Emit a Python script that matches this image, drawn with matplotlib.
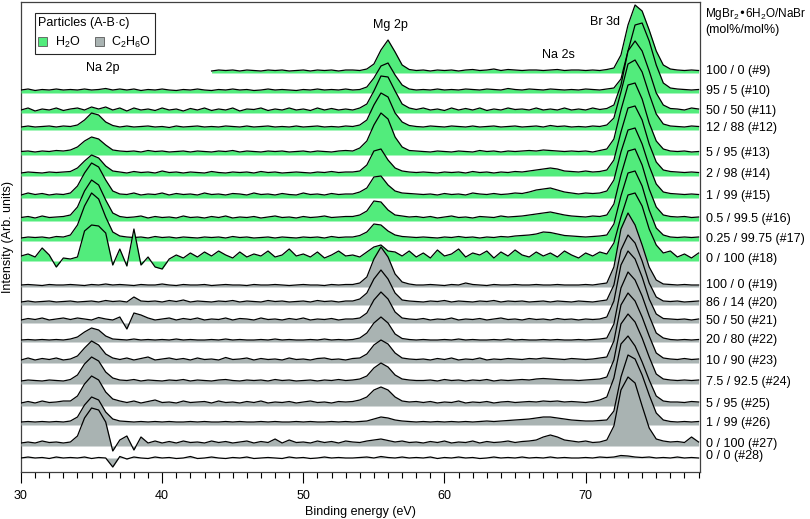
"""
XPS waterfall: MgBr2*6H2O / NaBr particles from H2O and C2H6O solutions.
All spectra share one energy grid (0.5 eV); values are intensities above
each spectrum's zero line, read off the original figure.
"""
import numpy as np
import matplotlib
matplotlib.use('Agg')
import matplotlib.pyplot as plt
from matplotlib.patches import Patch
from matplotlib.ticker import MultipleLocator

plt.rcParams['font.family'] = ['Liberation Sans', 'DejaVu Sans']
plt.rcParams['mathtext.default'] = 'regular'

GREEN = '#52ec7c'
GREY = '#a9b3b2'

energy = np.arange(30, 78.01, 0.5)   # binding energy (eV)

# zero line of each spectrum, counted downwards from the top of the plot
baseline = [73, 93, 113, 130, 155, 176, 198, 221, 241, 261,
            287, 305, 323, 342, 363, 384, 406, 425, 446, 458]

labels = ['100 / 0 (#9)', '95 / 5 (#10)', '50 / 50 (#11)', '12 / 88 (#12)',
          '5 / 95 (#13)', '2 / 98 (#14)', '1 / 99 (#15)', '0.5 / 99.5 (#16)',
          '0.25 / 99.75 (#17)', '0 / 100 (#18)',
          '100 / 0 (#19)', '86 / 14 (#20)', '50 / 50 (#21)', '20 / 80 (#22)',
          '10 / 90 (#23)', '7.5 / 92.5 (#24)', '5 / 95 (#25)', '1 / 99 (#26)',
          '0 / 100 (#27)', '0 / 0 (#28)']

solvent = ['H2O'] * 10 + ['C2H6O'] * 10

# ── H2O particles ───────────────────────────────────────────────
s09 = ([None] * 27 +
       [2, 3, 2.5, 3, 2, 3, 2.5, 2, 3, 2.5, 3, 2, 2.5, 3, 2, 3, 2.5, 3, 2, 3] +
       [3, 2.5, 4, 9, 23, 33, 21, 8, 3.5, 2.5] +
       [3, 2, 3, 2.5, 3, 2, 3, 3.5, 2.5, 3, 4, 2.5, 3.5, 3, 2.5, 3] +
       [3, 2.5, 3, 3.5, 2.5, 3] + [3, 2.5, 3, 2.5, 3.5] +
       [5, 18, 48, 68, 62, 43, 22, 8, 4] + [3, 2.5, 3, 2.5])
s10 = ([3, 4, 2.5, 3.5, 3, 4, 3] + [3.5, 3, 4, 3, 3.5, 4.5, 3, 4] +
       [3, 4, 2.5, 3.5, 3, 4, 3, 2.5, 3.5, 3, 4, 3, 2.5, 3.5, 3, 4,
        3, 3.5, 2.5, 3, 4, 3, 3.5, 3, 2.5, 3.5, 3, 4, 3, 3.5, 3, 4] +
       [3, 3.5, 6, 15, 27, 30, 18, 8, 4, 3] +
       [3.5, 3, 4, 3, 3.5, 3, 4, 3.5, 3, 4, 3.5, 3, 4.5, 3.5, 3, 4] +
       [3.5, 3, 4, 3.5, 3, 3.5] + [3, 4, 3.5, 3, 4] +
       [5, 14, 42, 68, 70, 52, 28, 10, 5] + [4, 3.5, 3, 3.5])
s11 = ([3, 5, 2, 4, 3, 5, 2.5] + [4, 5, 3, 6, 4, 6, 3, 5] +
       [2, 5, 3, 4, 2.5, 5, 3, 4, 2, 4.5, 3, 5, 2.5, 4, 3, 5,
        2, 4, 3.5, 5, 2.5, 4, 3, 5, 3, 4, 2.5, 5, 3, 4.5, 3, 4] +
       [3, 5, 9, 22, 37, 36, 22, 9, 5, 3.5] +
       [5, 3, 4, 2.5, 5, 3, 4.5, 3, 5, 2.5, 4, 3, 5, 3.5, 4, 3] +
       [5, 3, 4, 3, 5, 3] + [4, 3, 5, 3.5, 4.5] +
       [8, 28, 62, 72, 62, 42, 20, 8, 4.5] + [4, 3, 5, 4])
s12 = ([3, 4, 3, 3.5, 4, 3, 4] + [3.5, 5, 10, 17, 15, 8, 4.5, 3] +
       [4, 3, 3.5, 4, 3, 3.5, 2.5, 4, 3, 3.5, 4, 3, 3.5, 3, 4, 3.5,
        3, 4, 3, 3.5, 4, 3, 3.5, 3, 4, 3, 3.5, 4, 3, 3.5, 3, 4] +
       [3.5, 5, 10, 25, 37, 33, 17, 8, 4.5, 3.5] +
       [3, 4, 3.5, 3, 4, 3.5, 3, 4, 3, 3.5, 4, 3, 3.5, 4, 3, 3.5] +
       [4, 3, 4.5, 3.5, 4, 3] + [3.5, 3, 4, 3.5, 5] +
       [12, 38, 66, 70, 58, 36, 16, 6, 4] + [3.5, 3, 4, 3.5])
s13 = ([3.5, 4, 3, 4, 3.5, 4.5, 4] + [5, 8, 14, 18, 16, 10, 5, 4] +
       [3.5, 4, 3, 4.5, 3.5, 4, 3, 3.5, 4, 3, 4, 3.5, 3, 4, 3.5, 4.5,
        3, 4, 3.5, 3, 4, 3.5, 4, 3, 3.5, 4, 3, 4, 3.5, 3, 4, 4.5] +
       [4, 7, 14, 30, 42, 36, 18, 8, 4.5, 4] +
       [3.5, 3, 4, 3.5, 3, 4, 3.5, 3, 4.5, 3.5, 4, 3, 4, 3.5, 4, 4.5] +
       [4, 5, 4.5, 4, 3.5, 4] + [3.5, 4, 3, 4.5, 6] +
       [16, 45, 70, 72, 56, 32, 14, 6, 4] + [3.5, 4, 3, 3.5])
s14 = ([3, 4, 3.5, 3, 4, 3.5, 4] + [4.5, 8, 15, 21, 18, 10, 5, 4] +
       [3, 4.5, 3.5, 4, 3, 5, 3.5, 4, 3, 4, 3.5, 3, 4.5, 3.5, 3, 4,
        3.5, 4, 3, 4.5, 3.5, 4, 3, 3.5, 4, 3.5, 3, 4, 3.5, 4.5, 3.5, 4] +
       [4, 5, 11, 25, 27, 16, 8, 5, 4, 3.5] +
       [4, 3.5, 3, 4, 3.5, 4, 3, 4.5, 3.5, 4, 3, 4, 3.5, 4.5, 4, 5] +
       [6, 7, 8, 7, 5, 4.5] + [4, 5, 4, 4.5, 6] +
       [16, 44, 68, 70, 56, 32, 14, 6, 4.5] + [4, 3.5, 4, 3.5])
s15 = ([3, 5, 3.5, 4.5, 3, 4, 3.5] + [5, 12, 25, 35, 31, 18, 7, 4] +
       [3.5, 5, 3, 4, 3.5, 5, 3, 4.5, 3.5, 4, 3, 5, 3.5, 4, 3, 4.5,
        4, 3, 5, 3.5, 4, 3, 4.5, 3.5, 3, 5, 3.5, 4, 3, 4.5, 3.5, 4] +
       [4, 6, 10, 21, 22, 13, 7, 5, 4.5, 4] +
       [3.5, 4, 3, 4.5, 3.5, 4, 3, 5, 4, 3.5, 4.5, 3.5, 4, 5, 4.5, 6] +
       [8, 9, 10, 8, 6, 5] + [4, 5, 4.5, 5, 7] +
       [18, 46, 68, 70, 54, 32, 14, 6, 4.5] + [4, 3.5, 4, 3.5])
s16 = ([3.5, 4.5, 3, 5, 3.5, 4, 4.5] + [6, 14, 30, 41, 36, 21, 8, 4.5] +
       [3.5, 4, 5, 3, 4.5, 3.5, 4, 3, 5, 3.5, 4, 3, 4.5, 3.5, 5, 3,
        4, 3.5, 4.5, 3, 4, 5, 3.5, 4, 3, 4.5, 3.5, 4, 5, 3.5, 4, 4.5] +
       [4.5, 6, 10, 20, 19, 11, 6, 5, 4, 4.5] +
       [3.5, 4.5, 3, 4, 5, 3.5, 4, 3, 4.5, 4, 3.5, 5, 4, 4.5, 5, 6] +
       [7, 8, 9, 7.5, 6, 5] + [4.5, 4, 5, 4.5, 6] +
       [17, 46, 70, 72, 56, 32, 14, 6, 4.5] + [4, 4.5, 3.5, 4])
s17 = ([3, 4, 3.5, 4, 3, 4.5, 4] + [6, 16, 35, 48, 42, 24, 9, 5] +
       [4, 3.5, 4, 3, 4.5, 3.5, 4, 3, 4, 3.5, 3, 4, 3.5, 4, 3, 4.5,
        3.5, 4, 3, 3.5, 4, 3, 4, 3.5, 3, 4, 3.5, 4, 3, 4.5, 3.5, 4] +
       [4, 5.5, 9, 17, 16, 10, 6, 4.5, 4, 3.5] +
       [4, 3.5, 3, 4, 3.5, 4.5, 3.5, 4, 3, 4, 3.5, 4.5, 4, 5, 5.5, 6] +
       [7, 9, 8.5, 7, 5.5, 5] + [4.5, 4, 4.5, 5, 6] +
       [17, 45, 68, 70, 55, 31, 13, 6, 4] + [3.5, 4, 3.5, 4])
s18 = ([5, 7, 4, 13, 6, -6, 3] + [2, 4, 30, 36, 35, 28, -4, 12] +
       [-5, 32, -4, 4, -6, -8, 2, 6, 3, 8, 4, 9, 5, 10, 6, 3,
        9, 4, 7, 5, 10, 4, 6, 12, 5, 7, 4, 9, 3, 6, 10, 5] +
       [6, 4, 9, 14, 16, 10, 9, 5, 10, 4] +
       [8, 3, 11, 5, 7, 12, 4, 8, 6, 10, 3, 9, 5, 11, 6, 4] +
       [9, 5, 8, 4, 10, 6] + [3, 8, 5, 9, 7] +
       [18, 44, 66, 68, 55, 32, 16, 8, 10] + [4, 7, 3, 8])

# ── C2H6O particles ─────────────────────────────────────────────
s19 = ([2, 2.5, 2, 1.5, 2.5, 2, 2] + [2.5, 2, 1.5, 2.5, 2, 3, 2, 2.5] +
       [2, 1.5, 2.5, 2, 2, 3, 2, 1.5, 2.5, 2, 2, 2.5, 1.5, 2, 2.5, 2,
        2, 1.5, 2.5, 2, 2, 2.5, 2, 1.5, 2, 2.5, 2, 2, 1.5, 2.5, 2, 2.5] +
       [2.5, 4, 10, 28, 40, 30, 13, 5, 3, 2] +
       [2, 2.5, 2, 1.5, 2.5, 2, 4, 2.5, 2, 1.5, 2.5, 2, 2, 2.5, 2, 2] +
       [2.5, 2, 2, 2.5, 2, 2] + [2, 2.5, 2, 3, 4] +
       [20, 58, 74, 62, 42, 20, 7, 3, 2.5] + [2, 2.5, 2, 2])
s20 = ([3, 4, 3, 3.5, 4, 3, 3.5] + [4, 3, 3.5, 4, 3, 4.5, 3.5, 4] +
       [3, 8, 4, 3.5, 4, 3, 4.5, 3.5, 5, 3, 4, 3.5, 3, 4, 3.5, 4.5,
        3, 4, 3.5, 3, 4.5, 3.5, 4, 3, 3.5, 4, 3, 4.5, 3.5, 4, 3, 4] +
       [4, 6, 12, 26, 35, 26, 12, 5, 4, 3.5] +
       [3, 4, 3.5, 4.5, 3, 4, 3.5, 3, 4, 3.5, 4.5, 3, 4, 3.5, 4, 3] +
       [3.5, 4, 3, 4, 3.5, 3] + [4, 3.5, 3, 4, 5] +
       [20, 55, 70, 62, 44, 22, 8, 4, 3.5] + [4, 3, 3.5, 4])
s21 = ([3, 4.5, 3.5, 5, 3, 4, 5] + [3.5, 5, 4, 3, 5.5, 4, 3, 6] +
       [-6, 10, 8, 5, 3, 4, 5, 3, 4.5, 3.5, 5, 3, 4, 3.5, 5, 3,
        4.5, 4, 3, 5, 3.5, 4, 3, 4.5, 3.5, 5, 3, 4, 3.5, 4.5, 3, 4] +
       [4, 5, 10, 23, 31, 24, 11, 5, 4, 3.5] +
       [4.5, 3, 4, 3.5, 5, 3, 4, 3.5, 4.5, 3, 4, 5, 3.5, 4, 3, 4.5] +
       [3.5, 4, 3, 4.5, 3.5, 4] + [3, 4, 3.5, 4, 6] +
       [22, 58, 72, 64, 46, 24, 9, 4.5, 4] + [3.5, 4, 3, 4])
s22 = ([2, 2.5, 2, 2.5, 2, 2.5, 2] + [3, 5, 10, 14, 12, 6, 3, 2.5] +
       [2, 3, 2, 2.5, 2, 2.5, 2, 3, 2, 2.5, 2, 2, 2.5, 2, 3, 2,
        2.5, 2, 2, 2.5, 2, 3, 2, 2.5, 2, 2, 2.5, 2, 3, 2, 2.5, 2] +
       [2.5, 4, 9, 19, 25, 19, 8, 3.5, 2.5, 2] +
       [2.5, 2, 2, 2.5, 2, 3, 2, 2.5, 2, 2, 2.5, 2, 3, 2, 2.5, 2] +
       [2, 2.5, 2, 2.5, 2, 2] + [2.5, 2, 2.5, 3, 4] +
       [18, 54, 70, 62, 46, 26, 9, 4, 2.5] + [2, 2.5, 2, 2.5])
s23 = ([3, 5, 3, 4.5, 3.5, 5, 3] + [4, 7, 15, 22, 18, 9, 5, 3.5] +
       [5, 3, 4.5, 6, 3, 4, 5, 3.5, 4.5, 3, 5, 3.5, 4, 3, 5.5, 3.5,
        4, 5, 3, 4.5, 3.5, 4, 3, 5, 3.5, 4, 3, 4.5, 5, 3.5, 4, 3] +
       [4.5, 5, 9, 18, 23, 19, 10, 5, 4, 3.5] +
       [4, 3, 4.5, 3.5, 5, 3, 4, 3.5, 5, 3, 4, 3.5, 4.5, 4, 3.5, 4.5] +
       [4, 5, 4.5, 4, 3.5, 4.5] + [4, 3.5, 4, 5, 6] +
       [22, 58, 70, 62, 46, 27, 10, 5, 4] + [3.5, 4.5, 3.5, 4])
s24 = ([3, 4, 3.5, 3, 4, 3.5, 3] + [4.5, 9, 20, 27, 23, 12, 6, 4] +
       [3.5, 4.5, 3, 4, 3.5, 3, 4, 3.5, 4.5, 3, 4, 3.5, 3, 4, 4.5, 3.5,
        3, 4, 3.5, 4, 3, 4.5, 3.5, 4, 3, 3.5, 4, 3, 4, 3.5, 4.5, 3.5] +
       [4, 5, 8, 16, 21, 17, 9, 5, 4, 3.5] +
       [3.5, 4, 3, 4.5, 3.5, 4, 3, 4, 3.5, 4.5, 3, 4, 3.5, 4, 4.5, 4] +
       [5, 5.5, 5, 4.5, 4, 4] + [3.5, 4, 4.5, 5, 7] +
       [24, 60, 70, 62, 46, 27, 10, 5, 4] + [3.5, 4, 3.5, 4])
s25 = ([3, 4.5, 3, 5, 3.5, 4, 5] + [5, 10, 22, 30, 26, 14, 7, 5] +
       [3.5, 5, 3, 4.5, 6, 3.5, 4, 3, 5, 3.5, 4, 4.5, 3, 5, 3.5, 4,
        3, 4.5, 3.5, 5, 3, 4, 3.5, 4.5, 3, 4, 5, 3.5, 4, 3, 4.5, 4] +
       [4.5, 6, 9, 16, 19, 16, 9, 5, 4, 4.5] +
       [3.5, 4.5, 3, 4, 3.5, 5, 3, 4, 3.5, 4.5, 3, 4, 4.5, 3.5, 4, 4.5] +
       [4, 5, 4.5, 5, 4, 4.5] + [4, 3.5, 4.5, 6, 9] +
       [28, 62, 70, 60, 44, 26, 10, 5, 4] + [4, 3.5, 4.5, 4])
s26 = ([3, 3.5, 3, 3.5, 3, 3.5, 3] + [4, 8, 20, 28, 25, 13, 6, 4] +
       [3.5, 3, 3.5, 3, 3.5, 3, 3.5, 3, 3, 3.5, 3, 3.5, 3, 3, 3.5, 3,
        3.5, 3, 3, 3.5, 3, 3.5, 3, 3, 3.5, 3, 3.5, 3, 3, 3.5, 3, 3.5] +
       [3, 3.5, 4, 6, 8, 7, 5, 4, 3.5, 3] +
       [3.5, 3, 3.5, 3, 3.5, 3, 3.5, 3, 3.5, 4, 3.5, 4, 4.5, 5, 5.5, 6] +
       [7, 8, 8, 7, 6, 5] + [4.5, 4, 4, 4.5, 5] +
       [14, 48, 70, 66, 50, 30, 12, 5, 3.5] + [3, 3.5, 3, 3.5])
s27 = ([3, 4, 3, 5, 3.5, 4, 3] + [4, 10, 28, 38, 36, 24, -5, 6] +
       [10, -4, 9, 3, 5, 3, 4.5, 3, 5, 3.5, 4, 3, 5, 3.5, 4.5, 3,
        4, 5, 3, 4.5, 3.5, 7, 3, 6, 3.5, 4, 3, 5, 3.5, 4.5, 3, 5] +
       [4, 3.5, 5, 6, 7, 5.5, 4, 5, 3.5, 4] +
       [3, 4.5, 3.5, 5, 3, 4, 3.5, 5, 3, 4.5, 3.5, 4, 5, 3.5, 4.5, 5] +
       [6, 9, 11, 9, 6, 5] + [4, 5, 3.5, 4, 6] +
       [20, 56, 69, 63, 40, 18, 7, 5, 4] + [4.5, 3.5, 9, 4])
s28 = ([0, 1, 0, 0.5, -0.5, 1, 0] + [0.5, 0, 1, -0.5, 0.5, 0, -9, 1.5] +
       [-1, 1, 0, -0.5, 1, 0, 0.5, -0.5, 0, 1.5, -0.5, 0, 1, 0, -0.5, 0.5,
        0, 1, -0.5, 0, 0.5, 0, -0.5, 1, 0, 0.5, -0.5, 0, 1, 0, 0.5, 0] +
       [0, 0.5, 1, 0, 1.5, 0.5, 0, 1, 0, 0.5] +
       [0, 1, -0.5, 0.5, 0, 1, 0, 0.5, -0.5, 0, 1, 0, 0.5, 0, 1, 0] +
       [0.5, 0, 1, 0, 0.5, 0] + [0, 0.5, 0, 1, 0.5] +
       [1, 2.5, 2, 1, 0.5, 1, 0, 0.5, 0] + [1, 0, 0.5, 0])

spectra = [s09, s10, s11, s12, s13, s14, s15, s16, s17, s18,
           s19, s20, s21, s22, s23, s24, s25, s26, s27, s28]
assert all(len(s) == len(energy) for s in spectra), [len(s) for s in spectra]

peaks = ['Na 2p', 'Mg 2p', 'Na 2s', 'Br 3d']
peak_energy = [35.8, 56.2, 68.1, 71.4]


fig = plt.figure(figsize=(8.1, 5.19), dpi=100)
ax = fig.add_axes([21 / 810, 47 / 519, 679 / 810, 470 / 519])

for k, (spec, base, lab, solv) in enumerate(zip(spectra, baseline, labels, solvent)):
    y = np.array(spec, dtype=float)
    ok = ~np.isnan(y)
    x, y = energy[ok], y[ok] - base
    colour = GREEN if solv == 'H2O' else GREY
    ax.fill_between(x, -base, y, color=colour, lw=0, zorder=2 * k + 1)
    ax.plot(x, y, color='black', lw=0.9, zorder=2 * k + 2)
    ax.text(1.009, -base + 2, lab, transform=ax.get_yaxis_transform(),
            ha='left', va='center', fontsize=9)

for name, xe, yp in zip(peaks, peak_energy, [68, 25, 55, 22]):
    ax.text(xe, -yp, name, ha='center', va='center', fontsize=9, zorder=50)

ax.set_xlim(30, 78.1)
ax.set_ylim(-472, -2)
ax.set_yticks([])
ax.xaxis.set_major_locator(MultipleLocator(10))
ax.xaxis.set_minor_locator(MultipleLocator(1))
ax.tick_params(axis='x', which='major', length=8, width=0.8, labelsize=9, pad=5)
ax.tick_params(axis='x', which='minor', length=4.5, width=0.8)
for sp in ax.spines.values():
    sp.set_color('0.25')
    sp.set_linewidth(0.9)
ax.set_xlabel('Binding energy (eV)', fontsize=9, labelpad=3)
ax.set_ylabel('Intensity (Arb. units)', fontsize=9)
ax.yaxis.set_label_coords(-0.011, 0.5)

ax.text(1.008, 0.975, 'MgBr$_2$•6H$_2$O/NaBr', transform=ax.transAxes,
        ha='left', va='center', fontsize=8.5)
ax.text(1.008, 0.940, '(mol%/mol%)', transform=ax.transAxes,
        ha='left', va='center', fontsize=9)

handles = [Patch(facecolor=GREEN, edgecolor='0.35', lw=0.6, label='H$_2$O'),
           Patch(facecolor=GREY, edgecolor='0.35', lw=0.6, label='C$_2$H$_6$O')]
leg = ax.legend(handles=handles, title='Particles (A-B·c)', ncol=2,
                loc='upper left', bbox_to_anchor=(0.02, 0.977), borderaxespad=0,
                fontsize=9, title_fontsize=9, frameon=True, fancybox=False,
                edgecolor='0.15', framealpha=1, handlelength=0.7, handleheight=0.7,
                handletextpad=0.6, columnspacing=1.2, borderpad=0.3,
                alignment='left')
leg.get_frame().set_linewidth(0.8)
leg.set_zorder(100)

fig.savefig('out.png', dpi=100)
